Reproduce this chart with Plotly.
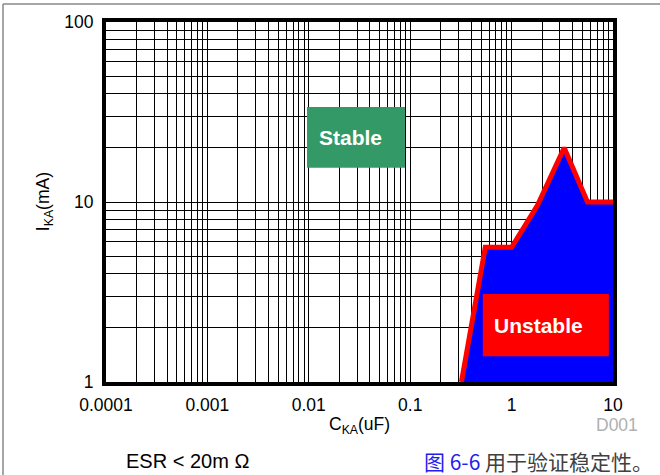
import math
import plotly.graph_objects as go

# Stability boundary (C_KA in uF, I_KA in mA)
cap_uf = [0.32, 0.55, 1.0, 1.8, 3.3, 5.6, 10.0]
ika_ma = [1.0, 5.6, 5.6, 9.6, 20.0, 10.0, 10.0]

x_tick_labels = ["0.0001", "0.001", "0.01", "0.1", "1", "10"]
y_tick_labels = ["1", "10", "100"]

FONT = "Arial, Liberation Sans, sans-serif"

# Grid ticks: every 1..9 per decade, labels only at decades
x_decades = [float(s) for s in x_tick_labels]
y_decades = [float(s) for s in y_tick_labels]
xt, xtt = [], []
for d in x_decades[:-1]:
    for m in range(1, 10):
        xt.append(d * m)
        xtt.append(x_tick_labels[x_decades.index(d)] if m == 1 else "")
xt.append(x_decades[-1]); xtt.append(x_tick_labels[-1])
yt, ytt = [], []
for d in y_decades[:-1]:
    for m in range(1, 10):
        yt.append(d * m)
        ytt.append(y_tick_labels[y_decades.index(d)] if m == 1 else "")
yt.append(y_decades[-1]); ytt.append(y_tick_labels[-1])

fig = go.Figure()
# Blue unstable region
fig.add_trace(go.Scatter(
    x=cap_uf + [cap_uf[-1], cap_uf[0]],
    y=ika_ma + [ika_ma[0], ika_ma[0]],
    fill="toself", fillcolor="#0000FF", mode="lines",
    line=dict(width=0, color="#0000FF"), hoverinfo="skip", showlegend=False))
# Red boundary
fig.add_trace(go.Scatter(
    x=cap_uf, y=ika_ma, mode="lines",
    line=dict(width=5, color="#FF0000"), showlegend=False))

# Boxes
stable_box = (0.0096, 0.089, 15.5, 33.7)
unstable_box = (0.52, 9.1, 1.39, 3.08)
fig.add_shape(type="rect", xref="x", yref="y", x0=stable_box[0], x1=stable_box[1],
              y0=stable_box[2], y1=stable_box[3], fillcolor="#339966",
              line=dict(width=0), layer="above")
fig.add_shape(type="rect", xref="x", yref="y", x0=unstable_box[0], x1=unstable_box[1],
              y0=unstable_box[2], y1=unstable_box[3], fillcolor="#FF0000",
              line=dict(width=0), layer="above")

def logmid(a, b):
    return (math.log10(a) + math.log10(b)) / 2

annotations = [
    dict(text="<b>Stable</b>", x=logmid(stable_box[0], stable_box[1]),
         y=logmid(stable_box[2], stable_box[3]), xref="x", yref="y",
         showarrow=False, xshift=-6, font=dict(family=FONT, size=21, color="white")),
    dict(text="<b>Unstable</b>", x=logmid(unstable_box[0], unstable_box[1]),
         y=logmid(unstable_box[2], unstable_box[3]), xref="x", yref="y",
         showarrow=False, xshift=-7, font=dict(family=FONT, size=21, color="white")),
    dict(text="C<sub>KA</sub>(uF)", x=0.5, y=-0.122, xref="paper", yref="paper",
         showarrow=False, yanchor="middle", font=dict(family=FONT, size=17.5, color="black")),
    dict(text="I<sub>KA</sub>(mA)", x=-0.122, y=0.5, xref="paper", yref="paper",
         showarrow=False, textangle=-90, xanchor="center", yanchor="middle",
         font=dict(family=FONT, size=17.5, color="black")),
    dict(text="D001", x=(640 - 106) / 507, y=(382 - 425) / 360, xref="paper", yref="paper",
         showarrow=False, xanchor="right", yanchor="middle",
         font=dict(family=FONT, size=17.5, color="#B0B0B0")),
    dict(text="ESR < 20m Ω", x=(124 - 106) / 507, y=(382 - 461) / 360, xref="paper", yref="paper",
         showarrow=False, xanchor="left", yanchor="middle",
         font=dict(family=FONT, size=20, color="black")),
    dict(text="<span style='color:#1F1FEF'>图 6-6</span> 用于验证稳定性。",
         x=(422 - 106) / 507, y=(382 - 461) / 360, xref="paper", yref="paper",
         showarrow=False, xanchor="left", yanchor="middle",
         font=dict(family="Noto Sans CJK SC, Arial, sans-serif", size=21, color="#404040")),
]

# Outer frame lines (top and left)
fx0 = (3 - 106) / 507
fy0 = (382 - 4) / 360
fig.add_shape(type="line", xref="paper", yref="paper", x0=fx0, x1=(662 - 106) / 507,
              y0=fy0, y1=fy0, line=dict(color="#888888", width=1.5))
fig.add_shape(type="line", xref="paper", yref="paper", x0=fx0, x1=fx0,
              y0=fy0, y1=(382 - 477) / 360, line=dict(color="#888888", width=1.5))

fig.update_layout(
    width=660, height=475,
    margin=dict(l=106, r=47, t=22, b=93),
    paper_bgcolor="white", plot_bgcolor="white",
    annotations=annotations,
    showlegend=False,
    xaxis=dict(type="log", range=[-4, 1], tickvals=xt, ticktext=xtt,
               showgrid=True, gridcolor="black", gridwidth=1,
               showline=True, linecolor="black", linewidth=4, mirror=True,
               ticks="", ticklabelstandoff=4, zeroline=False,
               tickfont=dict(family=FONT, size=17.5, color="black")),
    yaxis=dict(type="log", range=[0, 2], tickvals=yt, ticktext=ytt,
               showgrid=True, gridcolor="black", gridwidth=1,
               showline=True, linecolor="black", linewidth=4, mirror=True,
               ticks="", ticklabelstandoff=5, zeroline=False,
               tickfont=dict(family=FONT, size=17.5, color="black")),
)

fig.write_html("out.html", config={"displayModeBar": False},
               post_script="document.body.style.margin='0';document.body.style.overflow='hidden';")
